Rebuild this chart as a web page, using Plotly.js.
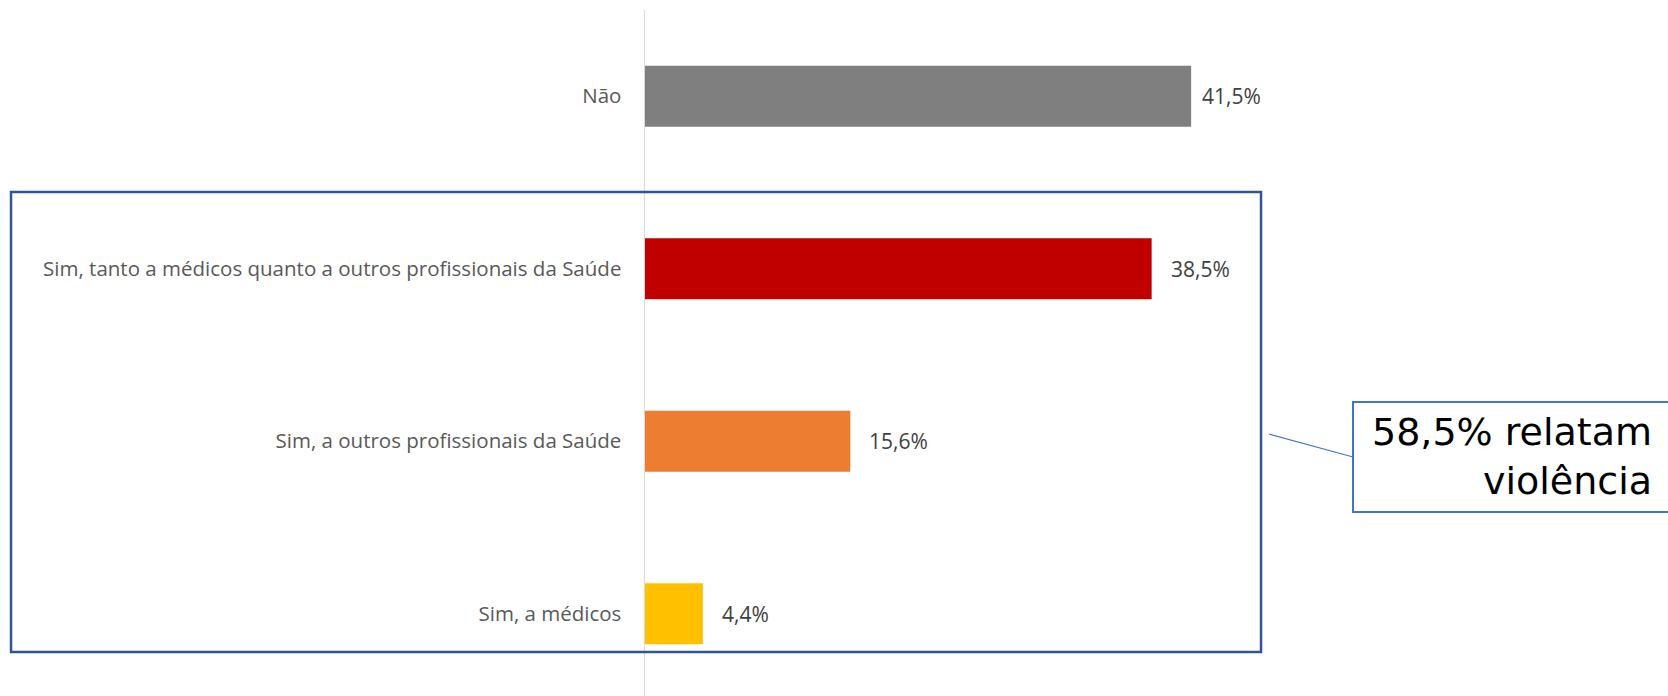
<!DOCTYPE html>
<html>
<head>
<meta charset="utf-8">
<script src="https://cdn.plot.ly/plotly-3.0.1.min.js"></script>
<style>html,body{margin:0;padding:0;background:#fff;}#chart{width:1668px;height:696px;}</style>
</head>
<body>
<div id="chart"></div>
<script>
const categories = [
  "Não",
  "Sim, tanto a médicos quanto a outros profissionais da Saúde",
  "Sim, a outros profissionais da Saúde",
  "Sim, a médicos"
];
const values = [41.5, 38.5, 15.6, 4.4];
const barColors = ["#7F7F7F", "#C00000", "#ED7D31", "#FFC000"];
const labelShift = [9, 17, 17, 17];
const calloutText = "58,5% relatam<br>violência";

const trace = {
  type: "bar",
  orientation: "h",
  x: values,
  y: categories,
  marker: {color: barColors, line: {width: 0}},
  width: 0.354,
  hoverinfo: "skip"
};

const fmt = v => v.toFixed(1).replace(".", ",") + "%";

const valueAnnotations = categories.map((c, i) => ({
  xref: "x", yref: "y", x: values[i], y: c,
  xanchor: "left", yanchor: "middle", xshift: labelShift[i],
  text: fmt(values[i]), showarrow: false,
  font: {family: "Open Sans", size: 21, color: "#404040"}
}));

const layout = {
  width: 1668,
  height: 696,
  margin: {l: 645, r: 365, t: 10, b: 0},
  paper_bgcolor: "#ffffff",
  plot_bgcolor: "#ffffff",
  separators: ",.",
  showlegend: false,
  xaxis: {
    range: [0, 50],
    showgrid: false,
    zeroline: false,
    showticklabels: false,
    showline: false,
    fixedrange: true
  },
  yaxis: {
    type: "category",
    range: [3.477, -0.5],
    showgrid: false,
    zeroline: false,
    showline: true,
    linecolor: "#D9D9D9",
    linewidth: 1.5,
    ticks: "",
    ticklabelstandoff: 18,
    tickfont: {family: "Open Sans", size: 20.5, color: "#595959"},
    fixedrange: true
  },
  shapes: [
    {type: "rect", xref: "paper", yref: "paper", x0: -0.9635, x1: 0.9362, y0: 0.0641, y1: 0.7347,
     line: {color: "#2F5597", width: 2.5}, fillcolor: "rgba(0,0,0,0)", layer: "above"},
    {type: "line", xref: "paper", yref: "paper", x0: 0.9483, y0: 0.3819, x1: 1.076, y1: 0.3484,
     line: {color: "#4472C4", width: 1.2}, layer: "above"},
    {type: "rect", xref: "paper", yref: "paper", x0: 1.076, x1: 1.565, y0: 0.2682, y1: 0.4286,
     line: {color: "#4472C4", width: 2}, fillcolor: "#ffffff", layer: "above"}
  ],
  annotations: valueAnnotations.concat([
    {xref: "paper", yref: "paper", x: 1.5334, y: 0.3484, xanchor: "right", yanchor: "middle",
     text: calloutText, showarrow: false, align: "right",
     font: {family: "DejaVu Sans", size: 38, color: "#000000"}}
  ])
};

Plotly.newPlot("chart", [trace], layout, {displayModeBar: false, staticPlot: true});
</script>
</body>
</html>
